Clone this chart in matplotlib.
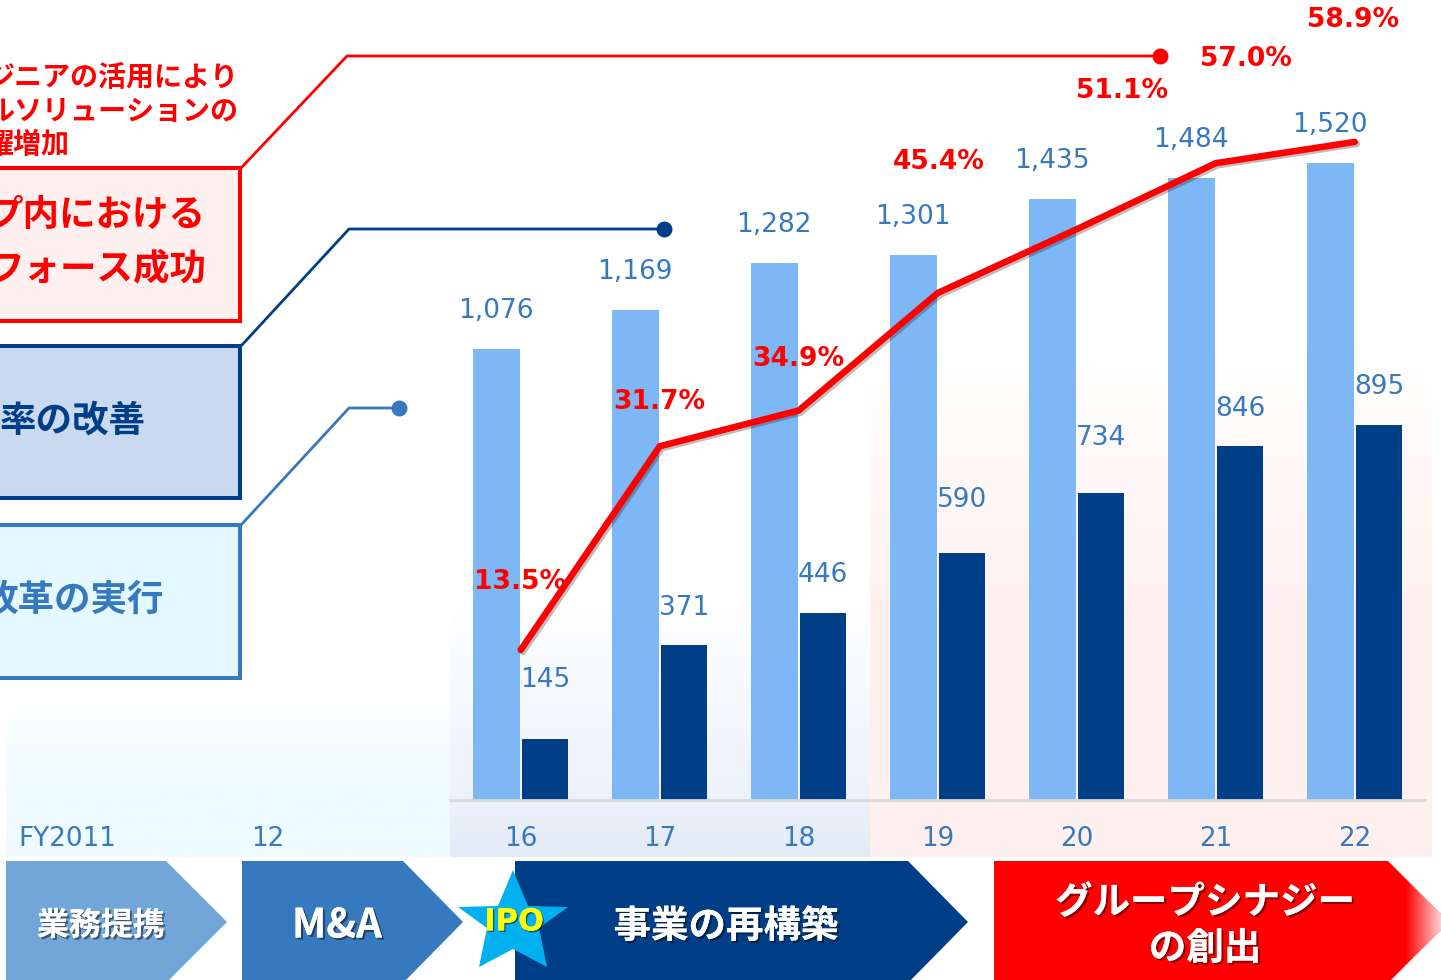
import numpy as np
import matplotlib
matplotlib.use("Agg")
import matplotlib.pyplot as plt
import matplotlib.patheffects as pe
from matplotlib.colors import to_rgb
from matplotlib.patches import Polygon, Rectangle

plt.rcParams['font.family'] = ['DejaVu Sans', 'Noto Sans CJK JP']

# data
years = ['16', '17', '18', '19', '20', '21', '22']
sales = [1076, 1169, 1282, 1301, 1435, 1484, 1520]
profit = [145, 371, 446, 590, 734, 846, 895]
ratio = [13.5, 31.7, 34.9, 45.4, 51.1, 57.0, 58.9]
early_years = ['FY2011', '12']
steps = ['業務提携', 'M&A', '事業の再構築', 'グループシナジー\nの創出']

# label offsets in pixels
profit_gap = [60, 38, 39, 54, 56, 38, 39]
ratio_dx = [-1, 0, 0, 1, 45, 30, -2]
ratio_dy = [69, 45, 52, 132, 139, 105, 123]

RED = '#FF0000'
NAVY = '#003F87'
BLUE = '#3779BF'
LIGHT = '#7DB7F5'
JP = ['Noto Sans CJK JP', 'DejaVu Sans']

fig = plt.figure(figsize=(14.41, 9.8), dpi=100)

# whole figure in pixel coordinates for the boxes, arrows and panels
bg = fig.add_axes([0, 0, 1, 1], zorder=0)
bg.axis('off')


def panel(x0, x1, y0, y1, stops, colors):
    ys = np.linspace(y0, y1, 200)
    rgb = np.array([to_rgb(c) for c in colors])
    img = np.stack([np.interp(ys, stops, rgb[:, i]) for i in range(3)], axis=1)[:, None, :]
    bg.imshow(img, extent=(x0, x1, y1, y0), aspect='auto', zorder=0)


panel(6, 450, 700, 857, [700, 790, 857], ['#FFFFFF', '#EEFBFF', '#EEFBFF'])
panel(450, 870, 600, 857, [600, 800, 857], ['#FFFFFF', '#EDF2FA', '#E1EAF6'])
panel(870, 1432, 350, 857, [350, 620, 857], ['#FFFFFF', '#FFF0F0', '#FFF0F0'])

# boxes on the left, cut by the edge of the picture
for y0, y1, face, edge in [(168, 321, '#FFF0F0', RED),
                           (346, 498, '#C9DAF0', NAVY),
                           (525, 678, '#E3F8FF', BLUE)]:
    bg.add_patch(Rectangle((-20, y0), 260, y1 - y0, fc=face, ec=edge, lw=2.9, zorder=2))

for txt, right, y, col in [('プ内における', 205, 215, RED), ('フォース成功', 206, 269, RED),
                           ('率の改善', 146, 421, NAVY), ('改革の実行', 164, 600, BLUE)]:
    bg.text(right, y, txt, color=col, fontsize=26.3, fontweight='bold', family=JP,
            ha='right', va='center', zorder=3)

for txt, right, y in [('ジニアの活用により', 238, 78), ('ルソリューションの', 239, 112), ('躍増加', 69, 145)]:
    bg.text(right, y, txt, color=RED, fontsize=20.2, fontweight='bold', family=JP,
            ha='right', va='center', zorder=3)

# leader lines
for xs, ys, col, lw in [([241, 347, 1160], [168, 56, 56], RED, 2),
                        ([241, 349, 664], [346, 229, 229], NAVY, 2),
                        ([241, 349, 399], [525, 408, 408], BLUE, 2)]:
    bg.plot(xs, ys, color=col, lw=lw, zorder=2, solid_capstyle='round')
    bg.plot(xs[-1], ys[-1], 'o', color=col, ms=11.5, mec='none', zorder=2)

# process arrows along the bottom
arrows = [(6, 166, 227, '#72A5D8'), (242, 403, 463, BLUE), (515, 908, 968, NAVY), (994, 1388, 1449, RED)]
for x0, x1, tip, col in arrows:
    bg.add_patch(Polygon([(x0, 861), (x1, 861), (tip, 922), (x1, 983), (x0, 983)], fc=col, ec='none', zorder=2))

# the red arrow fades out at its tip
fade = np.ones((1, 60, 4))
fade[..., 3] = np.linspace(0, 1, 60)
im = bg.imshow(fade, extent=(1405, 1449, 983, 861), aspect='auto', zorder=2.5)
im.set_clip_path(Polygon([(1388, 861), (1449, 922), (1388, 983)], transform=bg.transData))

shadow = [pe.withSimplePatchShadow(offset=(1.5, -1.5), shadow_rgbFace='black', alpha=0.45), pe.Normal()]
for txt, x, y, size in [(steps[0], 101, 926, 23), (steps[1], 337, 926, 29),
                        (steps[2], 726, 926, 27), (steps[3], 1205, 925, 27)]:
    bg.text(x, y, txt, color='white', fontsize=size, fontweight='bold', family=JP, ha='center',
            va='center', linespacing=1.22, zorder=5, path_effects=shadow)

star = [(513, 870), (528, 906), (568, 907), (539, 928), (547, 967), (513, 949),
        (479, 967), (487, 928), (458, 907), (498, 906)]
bg.add_patch(Polygon(star, fc='#00B0F0', ec='none', zorder=4))
bg.text(514, 922, 'IPO', color='#FFFF00', fontsize=22, fontweight='bold', ha='center', va='center', zorder=5,
        path_effects=[pe.withSimplePatchShadow(offset=(1, -1), shadow_rgbFace='black', alpha=0.5), pe.Normal()])

bg.text(18, 839, early_years[0], color=BLUE, fontsize=18.9, va='center', ha='left', zorder=3)
bg.text(268, 839, early_years[1], color=BLUE, fontsize=18.9, va='center', ha='center', zorder=3)

bg.set_xlim(0, 1441)
bg.set_ylim(980, 0)

# bar chart, laid over the pixel axes
ax = fig.add_axes([450 / 1441, 180 / 980, 975 / 1441, 800 / 980], zorder=1)
ax.patch.set_alpha(0)
x = np.arange(len(years))
ax.bar(x - 0.176, sales, 0.3345, color=LIGHT)
ax.bar(x + 0.176, profit, 0.3345, color=NAVY)
ax.set_xlim((450 - 520.75) / 139, (1425 - 520.75) / 139)
ax.set_ylim(0, 1910)
ax.set_xticks(x, years, color=BLUE, fontsize=18.9)
ax.tick_params(axis='x', length=0, pad=19)
ax.set_yticks([])
for s in ['top', 'left', 'right']:
    ax.spines[s].set_visible(False)
ax.spines['bottom'].set_color('#D9D9D9')
ax.spines['bottom'].set_linewidth(2)

for i in range(len(years)):
    ax.annotate(f'{sales[i]:,}', (x[i] - 0.176, sales[i]), xytext=(0, 38), textcoords='offset pixels',
                ha='center', va='center', color=BLUE, fontsize=19)
    ax.annotate(str(profit[i]), (x[i] + 0.176, profit[i]), xytext=(0, profit_gap[i] - 1), textcoords='offset pixels',
                ha='center', va='center', color=BLUE, fontsize=19)

# ratio line on its own scale
ax2 = ax.twinx()
ax2.set_ylim(1 / 11.19, 801 / 11.19)
ax2.set_yticks([])
for s in ax2.spines.values():
    s.set_visible(False)
ax2.plot(x, ratio, color=RED, lw=4.7, solid_capstyle='round', solid_joinstyle='miter',
         path_effects=[pe.SimpleLineShadow(offset=(1.5, -1.5), shadow_color='black', alpha=0.25), pe.Normal()])
for i in range(len(years)):
    ax2.annotate(f'{ratio[i]:.1f}%', (x[i], ratio[i]), xytext=(ratio_dx[i], ratio_dy[i] - 1),
                 textcoords='offset pixels', ha='center', va='center', color=RED,
                 fontsize=19.1, fontweight='bold', annotation_clip=False)

fig.savefig('out.png', dpi=100)
